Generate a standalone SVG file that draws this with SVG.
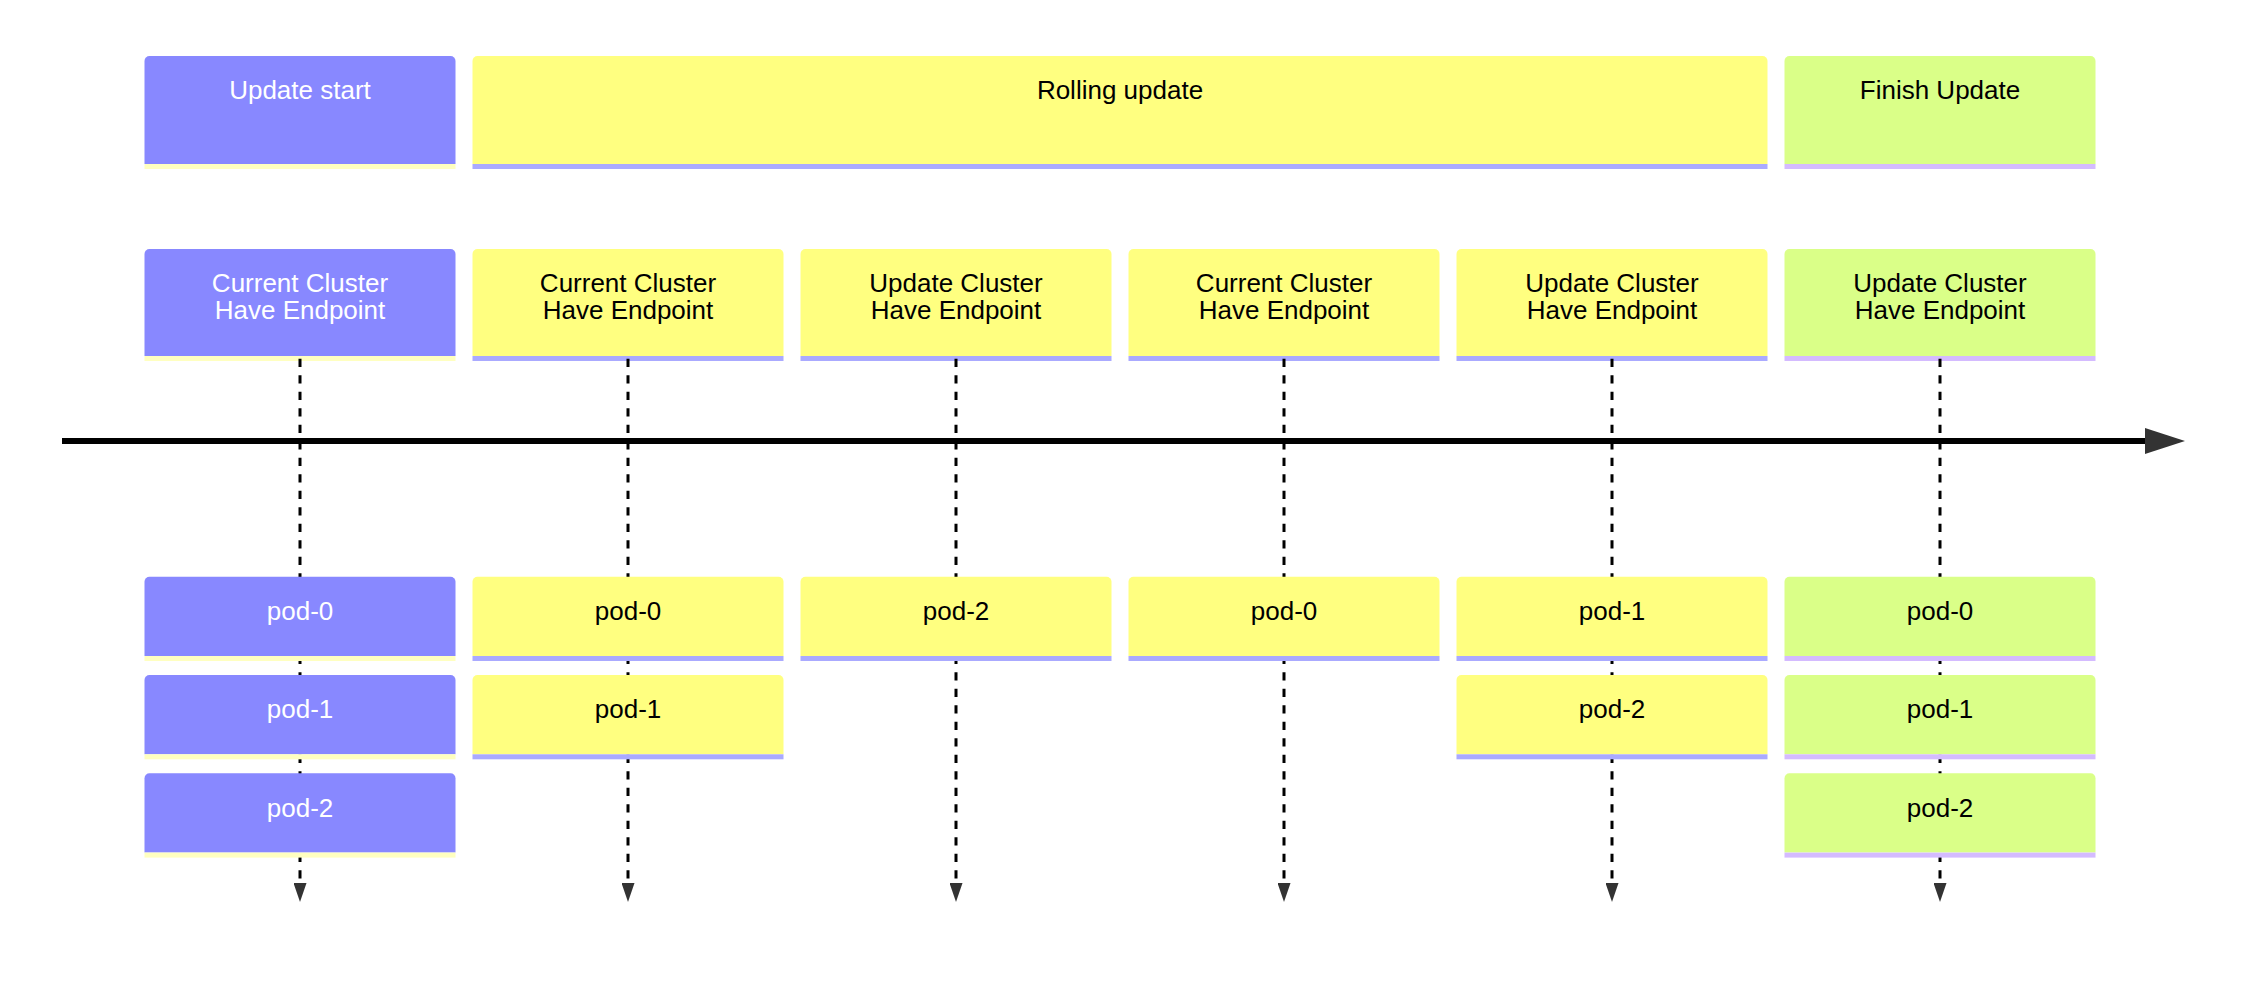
<svg xmlns="http://www.w3.org/2000/svg" width="2244" height="986" viewBox="0 0 2244 986">
<style>
text{font-family:"Liberation Sans",Arial,Helvetica,sans-serif;font-size:26px;text-anchor:middle}
.blue{fill:#8888ff}.yel{fill:#ffff80}.grn{fill:#daff88}
.sb{fill:#ffffc0}.sy{fill:#aaaaff}.sg{fill:#d4bbff}
.tw{fill:#ffffff}.tb{fill:#000000}
.dash{stroke:#000;stroke-width:3;stroke-dasharray:8.3 8.2;fill:none;marker-end:url(#ah)}
</style>
<defs>
<marker id="ah" markerUnits="userSpaceOnUse" markerWidth="19" markerHeight="13" viewBox="0 0 19 13" refX="0" refY="6.5" orient="auto"><path d="M0,0 L19,6.5 L0,13 z" fill="#333" stroke="none"/></marker>
<marker id="ta" markerUnits="userSpaceOnUse" markerWidth="40" markerHeight="26" viewBox="0 0 40 26" refX="0" refY="13" orient="auto"><path d="M0,0 L40,13 L0,26 z" fill="#333" stroke="none"/></marker>
<path id="pb" d="M0,79.3 V5 A5,5 0 0 1 5,0 H306 A5,5 0 0 1 311,5 V79.3 z"/>
</defs>
<rect width="2244" height="986" fill="#fff"/>

<g id="phase-update-start">
<path class="blue" d="M144.5,164 V61 A5,5 0 0 1 149.5,56 H450.5 A5,5 0 0 1 455.5,61 V164 z"/>
<rect class="sb" x="144.5" y="164" width="311" height="5"/>
<text class="tw" x="300" y="99.3">Update start</text>
</g>
<g id="phase-rolling-update">
<path class="yel" d="M472.5,164 V61 A5,5 0 0 1 477.5,56 H1762.5 A5,5 0 0 1 1767.5,61 V164 z"/>
<rect class="sy" x="472.5" y="164" width="1295" height="5"/>
<text class="tb" x="1120" y="99.3">Rolling update</text>
</g>
<g id="phase-finish-update">
<path class="grn" d="M1784.5,164 V61 A5,5 0 0 1 1789.5,56 H2090.5 A5,5 0 0 1 2095.5,61 V164 z"/>
<rect class="sg" x="1784.5" y="164" width="311" height="5"/>
<text class="tb" x="1940" y="99.3">Finish Update</text>
</g>

<g id="cluster-0">
<path class="blue" d="M144.5,356 V254 A5,5 0 0 1 149.5,249 H450.5 A5,5 0 0 1 455.5,254 V356 z"/>
<rect class="sb" x="144.5" y="356" width="311" height="5"/>
<text class="tw" x="300" y="291.7">Current Cluster</text>
<text class="tw" x="300" y="319.3">Have Endpoint</text>
</g>
<g id="cluster-1">
<path class="yel" d="M472.5,356 V254 A5,5 0 0 1 477.5,249 H778.5 A5,5 0 0 1 783.5,254 V356 z"/>
<rect class="sy" x="472.5" y="356" width="311" height="5"/>
<text class="tb" x="628" y="291.7">Current Cluster</text>
<text class="tb" x="628" y="319.3">Have Endpoint</text>
</g>
<g id="cluster-2">
<path class="yel" d="M800.5,356 V254 A5,5 0 0 1 805.5,249 H1106.5 A5,5 0 0 1 1111.5,254 V356 z"/>
<rect class="sy" x="800.5" y="356" width="311" height="5"/>
<text class="tb" x="956" y="291.7">Update Cluster</text>
<text class="tb" x="956" y="319.3">Have Endpoint</text>
</g>
<g id="cluster-3">
<path class="yel" d="M1128.5,356 V254 A5,5 0 0 1 1133.5,249 H1434.5 A5,5 0 0 1 1439.5,254 V356 z"/>
<rect class="sy" x="1128.5" y="356" width="311" height="5"/>
<text class="tb" x="1284" y="291.7">Current Cluster</text>
<text class="tb" x="1284" y="319.3">Have Endpoint</text>
</g>
<g id="cluster-4">
<path class="yel" d="M1456.5,356 V254 A5,5 0 0 1 1461.5,249 H1762.5 A5,5 0 0 1 1767.5,254 V356 z"/>
<rect class="sy" x="1456.5" y="356" width="311" height="5"/>
<text class="tb" x="1612" y="291.7">Update Cluster</text>
<text class="tb" x="1612" y="319.3">Have Endpoint</text>
</g>
<g id="cluster-5">
<path class="grn" d="M1784.5,356 V254 A5,5 0 0 1 1789.5,249 H2090.5 A5,5 0 0 1 2095.5,254 V356 z"/>
<rect class="sg" x="1784.5" y="356" width="311" height="5"/>
<text class="tb" x="1940" y="291.7">Update Cluster</text>
<text class="tb" x="1940" y="319.3">Have Endpoint</text>
</g>

<g id="connectors">
<line class="dash" x1="300" y1="358.7" x2="300" y2="883"/>
<line class="dash" x1="628" y1="358.7" x2="628" y2="883"/>
<line class="dash" x1="956" y1="358.7" x2="956" y2="883"/>
<line class="dash" x1="1284" y1="358.7" x2="1284" y2="883"/>
<line class="dash" x1="1612" y1="358.7" x2="1612" y2="883"/>
<line class="dash" x1="1940" y1="358.7" x2="1940" y2="883"/>
</g>

<g id="timeline">
<line x1="62" y1="441" x2="2145" y2="441" stroke="#000" stroke-width="6" marker-end="url(#ta)"/>
</g>

<g id="pod-c0-0"><use href="#pb" class="blue" x="144.5" y="576.7"/><rect class="sb" x="144.5" y="656" width="311" height="5"/><text class="tw" x="300" y="620">pod-0</text></g>
<g id="pod-c0-1"><use href="#pb" class="blue" x="144.5" y="675"/><rect class="sb" x="144.5" y="754.3" width="311" height="5"/><text class="tw" x="300" y="718.3">pod-1</text></g>
<g id="pod-c0-2"><use href="#pb" class="blue" x="144.5" y="773.3"/><rect class="sb" x="144.5" y="852.6" width="311" height="5"/><text class="tw" x="300" y="816.7">pod-2</text></g>

<g id="pod-c1-0"><use href="#pb" class="yel" x="472.5" y="576.7"/><rect class="sy" x="472.5" y="656" width="311" height="5"/><text class="tb" x="628" y="620">pod-0</text></g>
<g id="pod-c1-1"><use href="#pb" class="yel" x="472.5" y="675"/><rect class="sy" x="472.5" y="754.3" width="311" height="5"/><text class="tb" x="628" y="718.3">pod-1</text></g>

<g id="pod-c2-0"><use href="#pb" class="yel" x="800.5" y="576.7"/><rect class="sy" x="800.5" y="656" width="311" height="5"/><text class="tb" x="956" y="620">pod-2</text></g>

<g id="pod-c3-0"><use href="#pb" class="yel" x="1128.5" y="576.7"/><rect class="sy" x="1128.5" y="656" width="311" height="5"/><text class="tb" x="1284" y="620">pod-0</text></g>

<g id="pod-c4-0"><use href="#pb" class="yel" x="1456.5" y="576.7"/><rect class="sy" x="1456.5" y="656" width="311" height="5"/><text class="tb" x="1612" y="620">pod-1</text></g>
<g id="pod-c4-1"><use href="#pb" class="yel" x="1456.5" y="675"/><rect class="sy" x="1456.5" y="754.3" width="311" height="5"/><text class="tb" x="1612" y="718.3">pod-2</text></g>

<g id="pod-c5-0"><use href="#pb" class="grn" x="1784.5" y="576.7"/><rect class="sg" x="1784.5" y="656" width="311" height="5"/><text class="tb" x="1940" y="620">pod-0</text></g>
<g id="pod-c5-1"><use href="#pb" class="grn" x="1784.5" y="675"/><rect class="sg" x="1784.5" y="754.3" width="311" height="5"/><text class="tb" x="1940" y="718.3">pod-1</text></g>
<g id="pod-c5-2"><use href="#pb" class="grn" x="1784.5" y="773.3"/><rect class="sg" x="1784.5" y="852.6" width="311" height="5"/><text class="tb" x="1940" y="816.7">pod-2</text></g>
</svg>
